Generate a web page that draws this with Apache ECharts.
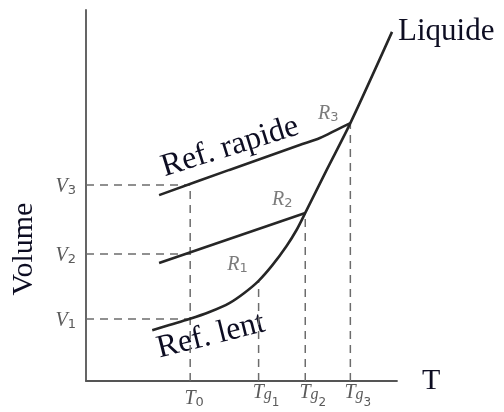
<!DOCTYPE html>
<html>
<head>
<meta charset="utf-8">
<script src="https://cdn.jsdelivr.net/npm/echarts@6/dist/echarts.min.js"></script>
<style>
  html, body { margin: 0; padding: 0; background: #ffffff; }
  #chart { width: 504px; height: 412px; }
</style>
</head>
<body>
<div id="chart"></div>
<script>
// Temperature ticks (T0, Tg1, Tg2, Tg3) and volume ticks (V1, V2, V3)
const tTicks = [3.35, 5.55, 7.05, 8.5];
const tLabels = [['T', '0'], ['T', 'g', '1'], ['T', 'g', '2'], ['T', 'g', '3']];
const vTicks = [1.67, 3.42, 5.28];
const vLabels = [['V', '1'], ['V', '2'], ['V', '3']];

// Equilibrium curve: slow-cooling glass branch up to the liquid line
const equilibrium = [
  [2.13, 1.37], [2.68, 1.51], [3.32, 1.67], [3.97, 1.86], [4.61, 2.10],
  [5.10, 2.38], [5.55, 2.70], [6.00, 3.13], [6.45, 3.64], [6.77, 4.07],
  [7.05, 4.53], [7.74, 5.69], [8.5, 6.95], [9.84, 9.41]
];
// Fast-cooling glass branch (departs at R3)
const rapide = [[2.35, 5.01], [4.61, 5.69], [6.87, 6.36], [7.52, 6.55], [8.06, 6.77], [8.5, 6.95]];
// Intermediate cooling rate branch (departs at R2)
const moyen = [[2.35, 3.18], [7.05, 4.53]];
// Glass transition points R1, R2, R3
const rPoints = [[5.55, 2.70], [7.05, 4.53], [8.5, 6.95]];
const rNames = ['1', '2', '3'];

const ink = '#262626';
const guide = '#6c6c6c';
const small = '#5a5a5a';
const big = '#0d0d22';

const serifIt = { fontFamily: 'Liberation Serif', fontStyle: 'italic', color: small };
const richSmall = {
  // single-level subscript (V1, R1, T0)
  m: Object.assign({ fontSize: 20, lineHeight: 24, verticalAlign: 'bottom' }, serifIt),
  n: { fontFamily: 'DejaVu Sans', fontSize: 13, lineHeight: 14, color: small, verticalAlign: 'bottom' },
  // two-level subscript (Tg1 ...)
  m2: Object.assign({ fontSize: 20, lineHeight: 24, padding: [0, 0, 6, 0], verticalAlign: 'bottom' }, serifIt),
  s2: Object.assign({ fontSize: 16, lineHeight: 15, padding: [0, 0, 6, 0], verticalAlign: 'bottom' }, serifIt),
  n2: { fontFamily: 'DejaVu Sans', fontSize: 12, lineHeight: 12, color: small, verticalAlign: 'bottom' },
  sp0: { width: 8 },
  sp1: { width: 15 }
};

function subText(parts) {
  if (parts.length === 2) return '{m|' + parts[0] + '}{n|' + parts[1] + '}';
  return '{m2|' + parts[0] + '}{s2|' + parts[1] + '}{n2|' + parts[2] + '}';
}

// Dashed reference lines built from the tick values
const T0 = tTicks[0];
const guides = [];
vTicks.forEach(v => guides.push([[0, v], [T0, v]]));
guides.push([[T0, 0], [T0, vTicks[2]]]);
rPoints.forEach((p, i) => guides.push([[tTicks[i + 1], 0], [tTicks[i + 1], p[1]]]));

const rOffsets = [[-21, -18], [-23, -15], [-22, -11]];

const series = [];
guides.forEach(g => series.push({
  type: 'line', data: g, symbol: 'none', silent: true, z: 1,
  lineStyle: { color: guide, width: 1.5, type: [8, 6] }
}));
series.push({
  type: 'line', data: equilibrium, symbol: 'none', smooth: 0.3, z: 3,
  lineStyle: { color: ink, width: 2.6 },
  endLabel: { show: true, formatter: 'Liquide', distance: 6, fontFamily: 'Liberation Serif', fontSize: 31, color: big }
});
series.push({
  type: 'line', data: rapide, symbol: 'none', smooth: 0.3, z: 3,
  lineStyle: { color: ink, width: 2.6 }
});
series.push({
  type: 'line', data: moyen, symbol: 'none', z: 3,
  lineStyle: { color: ink, width: 2.6 }
});
series.push({
  type: 'scatter', symbolSize: 0, z: 4,
  data: rPoints.map((p, i) => ({
    value: p,
    label: { position: rOffsets[i], formatter: subText(['R', rNames[i]]) }
  })),
  label: { show: true, align: 'center', verticalAlign: 'middle', rich: richSmall }
});

const chart = echarts.init(document.getElementById('chart'), null, { renderer: 'canvas' });
chart.setOption({
  backgroundColor: '#ffffff',
  animation: false,
  grid: { left: 86, right: 107, top: 10, bottom: 31 },
  xAxis: {
    type: 'value', min: 0, max: 10,
    name: 'T', nameLocation: 'end', nameGap: 25,
    nameTextStyle: { fontFamily: 'Liberation Serif', fontSize: 30, color: big, verticalAlign: 'middle', padding: [26, 0, 0, 0] },
    axisLine: { show: true, lineStyle: { color: '#555', width: 1.8 } },
    axisTick: { show: false },
    splitLine: { show: false },
    axisLabel: {
      show: true, customValues: tTicks, margin: 4, align: 'center',
      formatter: (val) => {
        const i = tTicks.indexOf(val);
        if (i < 0) return '';
        const sp = tLabels[i].length === 2 ? '{sp0|}' : '{sp1|}';
        return sp + subText(tLabels[i]);
      },
      rich: richSmall
    }
  },
  yAxis: {
    type: 'value', min: 0, max: 10,
    axisLine: { show: true, lineStyle: { color: '#555', width: 1.8 } },
    axisTick: { show: false },
    splitLine: { show: false },
    axisLabel: {
      show: true, customValues: vTicks, margin: 10,
      formatter: (val) => {
        const i = vTicks.indexOf(val);
        return i < 0 ? '' : subText(vLabels[i]);
      },
      rich: richSmall
    }
  },
  graphic: [
    { type: 'text', x: 24, y: 249, rotation: Math.PI / 2,
      style: { text: 'Volume', font: '30px "Liberation Serif"', fill: big, align: 'center', verticalAlign: 'middle' } },
    { type: 'text', x: 230, y: 147, rotation: 17.3 * Math.PI / 180,
      style: { text: 'Ref. rapide', font: '32px "Liberation Serif"', fill: big, align: 'center', verticalAlign: 'middle' } },
    { type: 'text', x: 211, y: 336, rotation: 14 * Math.PI / 180,
      style: { text: 'Ref. lent', font: '32px "Liberation Serif"', fill: big, align: 'center', verticalAlign: 'middle' } }
  ],
  series: series
});
</script>
</body>
</html>
